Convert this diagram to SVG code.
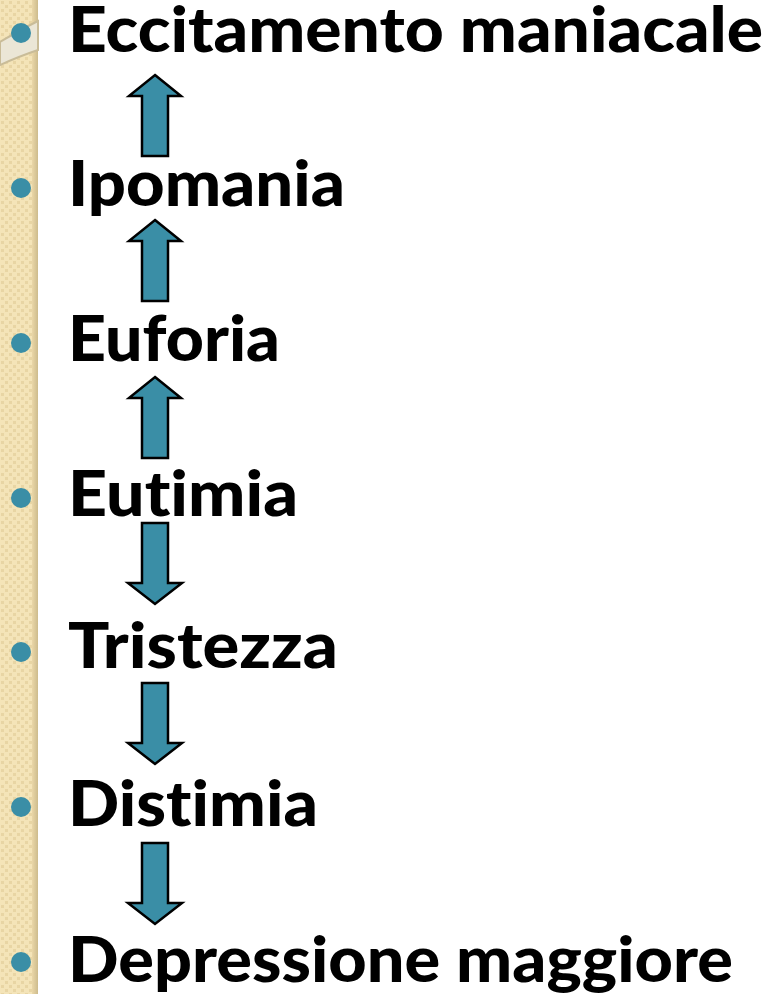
<svg xmlns="http://www.w3.org/2000/svg" width="770" height="994" viewBox="0 0 770 994">
<style>
.t{font-family:"Lato","Liberation Sans",sans-serif;font-weight:900;font-size:62px;fill:#000;font-variant-ligatures:none;font-feature-settings:"liga" 0,"clig" 0}
.b{fill:#3a8ea6}
.ar{fill:#3a8ea6;stroke:#000;stroke-width:2.5;stroke-linejoin:miter}
</style>
<defs>
<pattern id="pt" width="8" height="8" patternUnits="userSpaceOnUse">
<rect width="8" height="8" fill="#f4e4b8"/>
<rect x="1" y="1" width="3" height="3" fill="#e8d5a4"/>
<rect x="5" y="5" width="3" height="3" fill="#e8d5a4"/>
</pattern>
<linearGradient id="edge" x1="0" x2="1">
<stop offset="0" stop-color="#ead7a8"/>
<stop offset="1" stop-color="#cdbb8c"/>
</linearGradient>
<path id="up" d="M0,0 L26,21 L13,21 L13,81 L-13,81 L-13,21 L-26,21 Z"/>
<path id="dn" d="M-13,0 L13,0 L13,60 L27,60 L0,81 L-27,60 L-13,60 Z"/>
</defs>
<rect width="770" height="994" fill="#fff"/>
<g id="strip">
<rect x="0" y="0" width="38" height="994" fill="url(#pt)"/>
<rect x="32" y="0" width="6" height="994" fill="url(#edge)"/>
<path d="M0,42 Q20,30 38,21 L38,50 Q20,56 0,65 Z" fill="#ebe6d6" stroke="#c9bc98" stroke-width="2"/>
</g>
<g id="connectors">
<use href="#up" x="155" y="75" class="ar"/>
<use href="#up" x="155" y="220" class="ar"/>
<use href="#up" x="155" y="377" class="ar"/>
<use href="#dn" x="155" y="523" class="ar"/>
<use href="#dn" x="155" y="683" class="ar"/>
<use href="#dn" x="155" y="843" class="ar"/>
</g>
<g id="n1"><circle class="b" cx="21" cy="33" r="10"/><text class="t" x="68" y="52" textLength="695" lengthAdjust="spacingAndGlyphs">Eccitamento maniacale</text></g>
<g id="n2"><circle class="b" cx="21" cy="188" r="10"/><text class="t" x="68" y="206" textLength="277" lengthAdjust="spacingAndGlyphs">Ipomania</text></g>
<g id="n3"><circle class="b" cx="21" cy="343" r="10"/><text class="t" x="68" y="361" textLength="212" lengthAdjust="spacingAndGlyphs">Euforia</text></g>
<g id="n4"><circle class="b" cx="21" cy="498" r="10"/><text class="t" x="68" y="516" textLength="230" lengthAdjust="spacingAndGlyphs">Eutimia</text></g>
<g id="n5"><circle class="b" cx="21" cy="652" r="10"/><text class="t" x="68" y="668" textLength="270" lengthAdjust="spacingAndGlyphs">Tristezza</text></g>
<g id="n6"><circle class="b" cx="21" cy="807" r="10"/><text class="t" x="68" y="826" textLength="250" lengthAdjust="spacingAndGlyphs">Distimia</text></g>
<g id="n7"><circle class="b" cx="21" cy="962" r="10"/><text class="t" x="68" y="982" textLength="665" lengthAdjust="spacingAndGlyphs">Depressione maggiore</text></g>
</svg>
